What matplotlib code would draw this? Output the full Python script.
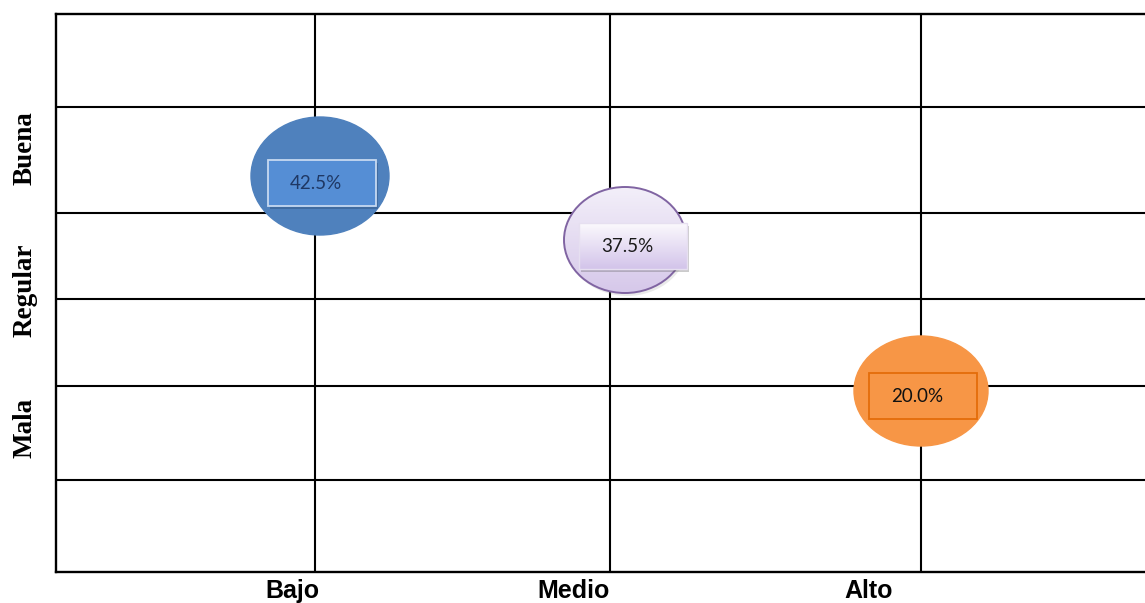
import matplotlib
matplotlib.use("Agg")
import matplotlib.pyplot as plt
import numpy as np
from matplotlib.patches import Ellipse, Rectangle

# ---- data ----
x_categories = ["Bajo", "Medio", "Alto"]
y_categories = ["Buena", "Regular", "Mala"]
values = [42.5, 37.5, 20.0]
value_labels = ["42.5%", "37.5%", "20.0%"]

# layout (in axis units, pixel-like)
vgrid = [259, 554, 865]
hgrid = [93, 199, 285, 372, 466]
xlabel_pos = [236, 518, 813]
ylabel_pos = [134, 276, 414]
bubble_x = [264, 569, 865]
bubble_y = [162, 226, 377]
bubble_w = [138, 122, 134]
bubble_h = [118, 106, 110]
box_x = [266, 577, 867]
box_y = [168.5, 232, 381.5]

W, H = 1145, 603
fig = plt.figure(figsize=(W / 100, H / 100), dpi=100)
L, R, T, B = 56, 1145, 14, 572
ax = fig.add_axes([L / W, (H - B) / H, (R - L) / W, (B - T) / H])
ax.set_xlim(0, R - L)
ax.set_ylim(B - T, 0)
ax.set_xticks([])
ax.set_yticks([])
for s in ["left", "top", "bottom"]:
    ax.spines[s].set_linewidth(1.7)
    ax.spines[s].set_color("black")
ax.spines["right"].set_visible(False)

for xv in vgrid:
    ax.axvline(xv, color="black", lw=1.5, zorder=1)
for yv in hgrid:
    ax.axhline(yv, color="black", lw=1.5, zorder=1)

ell_face = ["#4F81BD", None, "#F79646"]
ell_edge = ["#4F81BD", "#8064A2", "#F79646"]


def vgrad(c_top, c_bot):
    c1 = np.array(matplotlib.colors.to_rgb(c_top))
    c2 = np.array(matplotlib.colors.to_rgb(c_bot))
    t = np.linspace(0, 1, 100)[:, None]
    return (c1 * (1 - t) + c2 * t)[:, None, :]


for i in range(3):
    cx, cy, w, h = bubble_x[i], bubble_y[i], bubble_w[i], bubble_h[i]
    if i == 1:
        sh = Ellipse((cx + 2, cy + 3), w, h, facecolor="#999999", alpha=0.2,
                     edgecolor="none", zorder=2)
        ax.add_patch(sh)
        e = Ellipse((cx, cy), w, h, facecolor="none", edgecolor=ell_edge[i],
                    lw=1.4, zorder=4)
        ax.add_patch(e)
        im = ax.imshow(vgrad("#F3EFF9", "#D6C8EA"),
                       extent=[cx - w / 2, cx + w / 2, cy + h / 2, cy - h / 2],
                       aspect="auto", zorder=3, interpolation="bilinear")
        clip = Ellipse((cx, cy), w, h, transform=ax.transData, facecolor="none",
                       edgecolor="none")
        ax.add_patch(clip)
        im.set_clip_path(clip)
    else:
        e = Ellipse((cx, cy), w, h, facecolor=ell_face[i], edgecolor=ell_edge[i],
                    lw=1, zorder=3)
        ax.add_patch(e)

# label boxes
bw, bh = 108, 46
for i in range(3):
    bx, by = box_x[i], box_y[i]
    if i == 0:
        ax.add_patch(Rectangle((bx - bw / 2 + 2, by - bh / 2 + 3), bw, bh,
                               facecolor="#1F3A60", alpha=0.3, edgecolor="none", zorder=5))
        ax.add_patch(Rectangle((bx - bw / 2, by - bh / 2), bw, bh,
                               facecolor="#558ED5", edgecolor="#C6D9F1", lw=1.3, zorder=6))
        tc = "#1F3864"
    elif i == 1:
        ax.add_patch(Rectangle((bx - bw / 2 + 2, by - bh / 2 + 3), bw, bh,
                               facecolor="#555555", alpha=0.3, edgecolor="none", zorder=5))
        ax.imshow(vgrad("#FBF9FD", "#D3C4EA"),
                  extent=[bx - bw / 2, bx + bw / 2, by + bh / 2, by - bh / 2],
                  aspect="auto", zorder=6, interpolation="bilinear")
        ax.add_patch(Rectangle((bx - bw / 2, by - bh / 2), bw, bh,
                               facecolor="none", edgecolor="#E6DFF0", lw=1, zorder=6.5))
        tc = "#1a1a1a"
    else:
        ax.add_patch(Rectangle((bx - bw / 2, by - bh / 2), bw, bh,
                               facecolor="#F79646", edgecolor="#E46C0A", lw=1.3, zorder=6))
        tc = "#111111"
    ax.text(bx - 6, by + 1, value_labels[i], ha="center", va="center",
            fontsize=13.5, family=["Lato", "DejaVu Sans"], color=tc, zorder=7)

ax.set_xlim(0, R - L)
ax.set_ylim(B - T, 0)

for xp, lab in zip(xlabel_pos, x_categories):
    ax.text(xp, 577, lab, ha="center", va="center", fontsize=18,
            fontweight="bold", family="Liberation Sans", clip_on=False)

for yp, lab in zip(ylabel_pos, y_categories):
    ax.text(-31, yp, lab, ha="center", va="center", rotation=90, fontsize=19.5,
            fontweight="bold", family="Liberation Serif", clip_on=False)

fig.savefig("out.png", dpi=100)
